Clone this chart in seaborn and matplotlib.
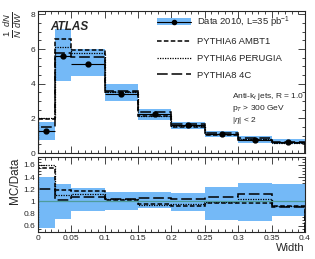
import numpy as np
import seaborn as sns
import matplotlib
matplotlib.use("Agg")
import matplotlib.pyplot as plt
from matplotlib.patches import Patch
from matplotlib.lines import Line2D
from matplotlib.ticker import MultipleLocator

# bin edges (jet width)
edges = [0.0, 0.025, 0.05, 0.1, 0.15, 0.2, 0.25, 0.3, 0.35, 0.4]

# top panel: 1/N dN/dW
data_val = [1.25, 5.6, 5.15, 3.43, 2.26, 1.6, 1.09, 0.76, 0.64]
data_lo = [0.76, 4.15, 4.46, 3.0, 1.93, 1.39, 0.9, 0.57, 0.51]
data_hi = [1.8, 7.15, 6.0, 3.97, 2.55, 1.8, 1.3, 1.0, 0.8]
ambt1 = [1.95, 6.6, 5.95, 3.5, 2.15, 1.48, 1.06, 0.74, 0.59]
perugia = [2.0, 6.15, 5.8, 3.55, 2.15, 1.55, 1.08, 0.79, 0.6]
py8_4c = [1.5, 5.8, 5.55, 3.58, 2.38, 1.66, 1.17, 0.86, 0.62]

# ratio panel: MC/Data
band_lo = [0.57, 0.71, 0.84, 0.86, 0.89, 0.85, 0.70, 0.68, 0.755]
band_hi = [1.40, 1.28, 1.22, 1.155, 1.155, 1.145, 1.24, 1.31, 1.28]
r_ambt1 = [1.55, 1.19, 1.17, 1.02, 0.96, 0.92, 0.97, 0.97, 0.92]
r_perugia = [1.6, 1.11, 1.13, 1.04, 0.95, 0.96, 0.99, 1.045, 0.93]
r_4c = [1.2, 1.03, 1.07, 1.045, 1.055, 1.045, 1.07, 1.13, 0.91]

sns.set_theme(style="ticks")
plt.rcParams['font.family'] = ['Liberation Sans', 'DejaVu Sans']
plt.rcParams['mathtext.fontset'] = 'custom'
plt.rcParams['mathtext.rm'] = 'Liberation Sans'
plt.rcParams['mathtext.it'] = 'Liberation Sans:italic'

band_col = '#74b9f7'
ls_ambt1 = (0, (3, 1.5))
ls_perugia = (0, (1, 1))
ls_4c = (0, (7, 2.5))

e = np.array(edges)
centers = (e[:-1] + e[1:]) / 2
widths = np.diff(e)

fig = plt.figure(figsize=(3.15, 2.59), dpi=100)
ax = fig.add_axes([0.1206, 0.409, 0.8474, 0.5485])
axr = fig.add_axes([0.1206, 0.104, 0.8474, 0.288])

# --- top panel
ax.bar(e[:-1], np.array(data_hi) - np.array(data_lo), width=widths,
       bottom=data_lo, align='edge', color=band_col, lw=0)
ax.stairs(ambt1, edges, color='black', lw=1.1, ls=ls_ambt1)
ax.stairs(perugia, edges, color='black', lw=0.9, ls=ls_perugia)
ax.stairs(py8_4c, edges, color='black', lw=1.1, ls=ls_4c)
ax.errorbar(centers, data_val, xerr=widths / 2, fmt='o', color='black',
            ms=3.5, lw=0.8, capsize=0)
ax.set_xlim(0, 0.4)
ax.set_ylim(0, 8.2)
ax.set_xticklabels([])

# --- ratio panel
axr.bar(e[:-1], np.array(band_hi) - np.array(band_lo), width=widths,
        bottom=band_lo, align='edge', color=band_col, lw=0)
axr.axhline(1.0, color='#4e9c9c', lw=0.9)
axr.stairs(r_ambt1, edges, color='black', lw=1.1, ls=ls_ambt1)
axr.stairs(r_perugia, edges, color='black', lw=0.9, ls=ls_perugia)
axr.stairs(r_4c, edges, color='black', lw=1.1, ls=ls_4c)
axr.set_xlim(0, 0.4)
axr.set_ylim(0.5, 1.72)

for a in (ax, axr):
    a.tick_params(which='both', direction='in', top=True, right=True,
                  labelsize=6, width=0.6, pad=2)
    a.tick_params(which='major', length=5)
    a.tick_params(which='minor', length=2.5)
    a.xaxis.set_major_locator(MultipleLocator(0.05))
    a.xaxis.set_minor_locator(MultipleLocator(0.01))
    for s in a.spines.values():
        s.set_linewidth(0.8)
ax.yaxis.set_major_locator(MultipleLocator(2))
ax.yaxis.set_minor_locator(MultipleLocator(0.5))
axr.yaxis.set_major_locator(MultipleLocator(0.2))
axr.yaxis.set_minor_locator(MultipleLocator(0.05))
axr.set_xticks([0, 0.05, 0.1, 0.15, 0.2, 0.25, 0.3, 0.35, 0.4])
axr.set_xticklabels(['0', '0.05', '0.1', '0.15', '0.2', '0.25', '0.3', '0.35', '0.4'])
axr.set_yticks([0.6, 0.8, 1.0, 1.2, 1.4, 1.6])
axr.set_yticklabels(['0.6', '0.8', '1', '1.2', '1.4', '1.6'])

ax.set_ylabel(r'$\frac{1}{N}\,\frac{dN}{dW}$', fontsize=9.5, loc='top', labelpad=4)
axr.set_ylabel('MC/Data', fontsize=8.5, loc='top', labelpad=2)
axr.set_xlabel('Width', fontsize=8, loc='right', labelpad=1)

ax.text(0.045, 0.93, 'ATLAS', transform=ax.transAxes, fontsize=8.5,
        fontweight='bold', style='italic', va='top')
ax.text(0.725, 0.44, 'Anti-k$_{t}$ jets, R = 1.0\np$_{T}$ > 300 GeV\n|$\\eta$| < 2',
        transform=ax.transAxes, fontsize=6, va='top', linespacing=1.15)

h_data = (Patch(facecolor=band_col, lw=0),
          Line2D([], [], color='black', marker='o', ms=3, lw=0.8))
h1 = Line2D([], [], color='black', lw=1.1, ls=ls_ambt1)
h2 = Line2D([], [], color='black', lw=0.9, ls=ls_perugia)
h3 = Line2D([], [], color='black', lw=1.1, ls=ls_4c)
ax.legend([h_data, h1, h2, h3],
          ['Data 2010, L=35 pb$^{-1}$', 'PYTHIA6 AMBT1', 'PYTHIA6 PERUGIA', 'PYTHIA8 4C'],
          loc='upper right', bbox_to_anchor=(0.975, 1.035), frameon=False,
          fontsize=6.8, handlelength=3.6, handletextpad=0.6,
          labelspacing=0.8, borderpad=0.4)

fig.savefig('out.png', dpi=100)
